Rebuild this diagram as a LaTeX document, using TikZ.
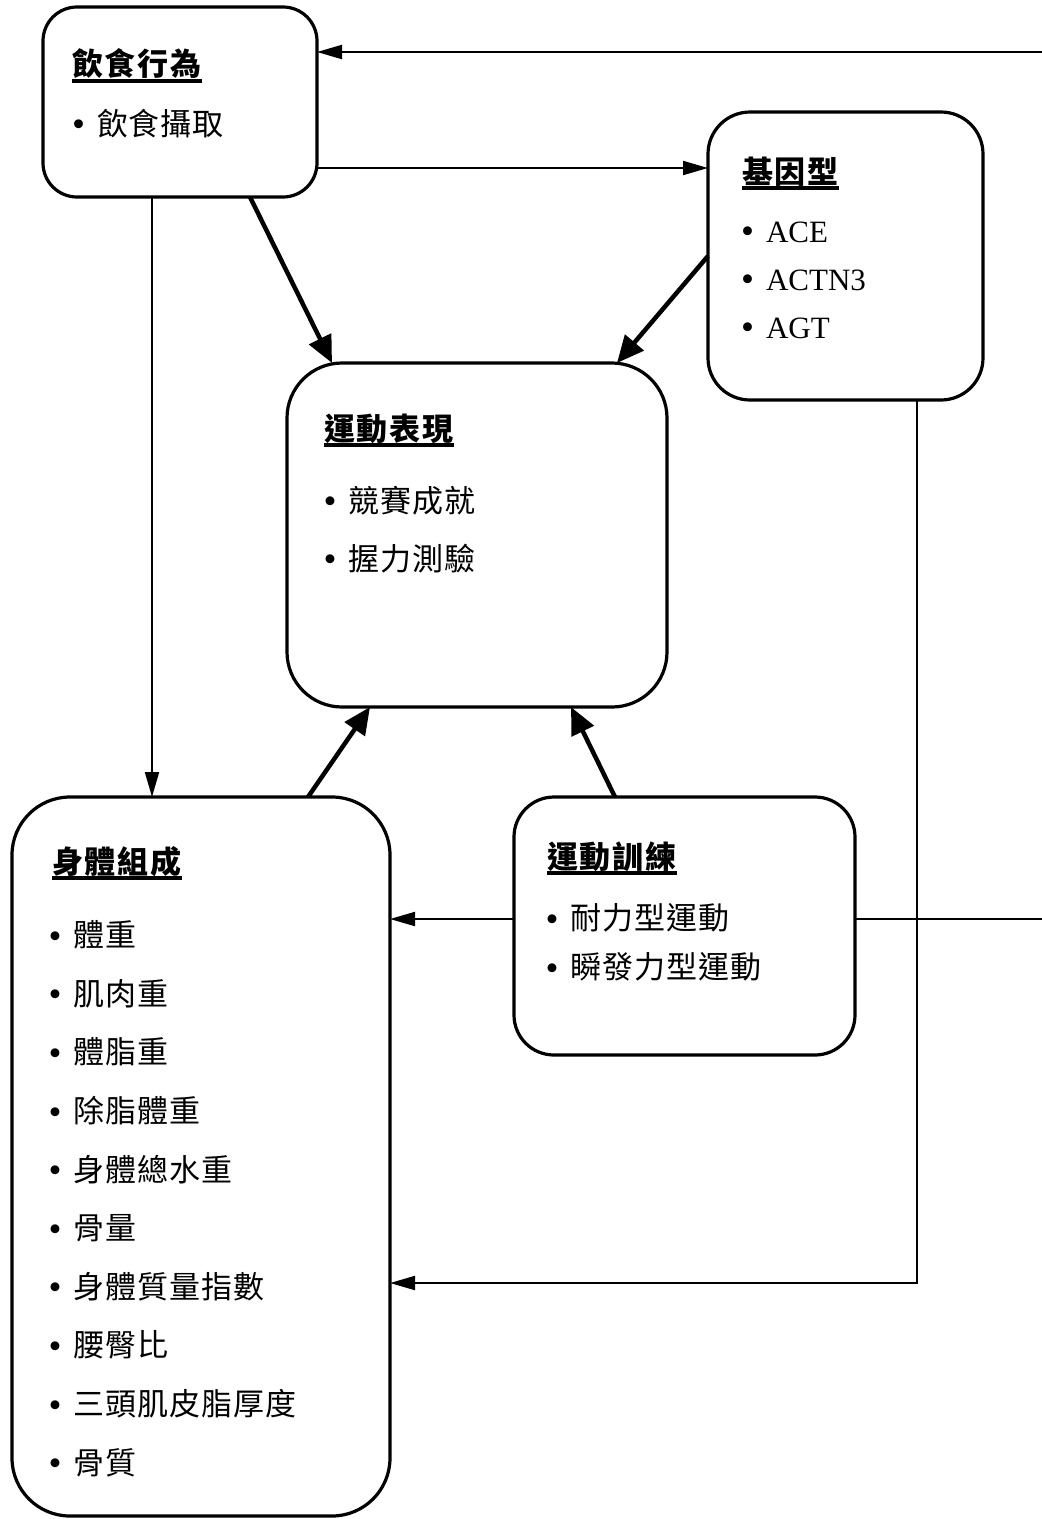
\documentclass[tikz,border=0pt]{standalone}
\usepackage{fontspec}
\setmainfont{Liberation Serif}
\newfontfamily\cjk{Noto Sans CJK TC}[LetterSpace=3]
\newfontfamily\cjkt{Noto Sans CJK TC}[LetterSpace=6]
\usetikzlibrary{arrows.meta}
\newcommand\blt[1]{\makebox[25pt][l]{\raisebox{-1.5pt}{\fontsize{37}{37}\selectfont •}}#1}
\newcommand\ttl[1]{\setbox0\hbox{#1}\rlap{\rule[-7pt]{\wd0}{4pt}}\box0}
\begin{document}
\begin{tikzpicture}[x=1pt,y=-1pt,
  box/.style={draw, line width=3.2pt, rounded corners=#1, inner sep=0pt, outer sep=0pt},
  tx/.style={anchor=base west, inner sep=0pt, outer sep=0pt, font=\fontsize{31}{31}\selectfont},
  thinarr/.style={line width=2pt, -{Triangle[length=25pt,width=14pt]}},
  thickarr/.style={line width=4.5pt, -{Triangle[length=27pt,width=24pt]}}]
\useasboundingbox (0,0) rectangle (1042,1519);
\clip (0,0) rectangle (1042,1519);
% boxes
\node[box=34, minimum width=274pt, minimum height=190pt] (diet) at (180,102) {};
\node[box=42, minimum width=275pt, minimum height=288pt] (geno) at (845.5,256) {};
\node[box=55, minimum width=380pt, minimum height=344pt] (perf) at (477,535) {};
\node[box=58, minimum width=378pt, minimum height=719pt] (body) at (201,1156.5) {};
\node[box=40, minimum width=341pt, minimum height=258pt] (train) at (684.5,926) {};
% texts
\node[tx] (dt) at (72,75.5) {\cjkt\bfseries\ttl{飲食行為}};
\node[tx] (d1) at (72,135) {\blt{\cjk 飲食攝取}};
\node[tx] (gt) at (742,183.3) {\cjkt\bfseries\ttl{基因型}};
\node[tx] (g1) at (741,242) {\blt{ACE}};
\node[tx] (g2) at (741,290) {\blt{ACTN3}};
\node[tx] (g3) at (741,338) {\blt{AGT}};
\node[tx] (pt) at (324,440) {\cjkt\bfseries\ttl{運動表現}};
\node[tx] (p1) at (323.5,512) {\blt{\cjk 競賽成就}};
\node[tx] (p2) at (323.5,570) {\blt{\cjk 握力測驗}};
\node[tx] (bt) at (52,873) {\cjkt\bfseries\ttl{身體組成}};
\foreach \s [count=\i from 0] in {體重,肌肉重,體脂重,除脂體重,身體總水重,骨量,身體質量指數,腰臀比,三頭肌皮脂厚度,骨質}
  \node[tx] (b\i) at (48.5,946.7+58.6*\i) {\blt{\cjk \s}};
\node[tx] (tt) at (547,868) {\cjkt\bfseries\ttl{運動訓練}};
\node[tx] (t1) at (545.5,929.7) {\blt{\cjk 耐力型運動}};
\node[tx] (t2) at (545.5,978.7) {\blt{\cjk 瞬發力型運動}};
% connectors
\coordinate (te) at ([yshift=7pt]train.east);
\coordinate (tw) at ([yshift=7pt]train.west);
\coordinate (de) at ([yshift=50pt]diet.east);
\coordinate (dg) at ([yshift=-66pt]diet.east);
\coordinate (ds) at ([xshift=-28pt]diet.south);
\coordinate (gs) at ([xshift=71.5pt]geno.south);
\coordinate (be) at ([yshift=-126.5pt]body.east);
\draw[thinarr] (te) -- ++(250,0) |- (de);
\draw[thinarr] (dg) -- (dg -| geno.west);
\draw[thinarr] (ds) -- (ds |- body.north);
\draw[thinarr] (tw) -- (tw -| body.east);
\draw[thinarr] (gs) |- (be);
\draw[thickarr] ([xshift=70pt]diet.south) -- ([xshift=-145pt]perf.north);
\draw[thickarr] (geno.west) -- ([xshift=140pt]perf.north);
\draw[thickarr] ([xshift=107pt]body.north) -- ([xshift=-107pt]perf.south);
\draw[thickarr] ([xshift=-69.5pt]train.north) -- ([xshift=94pt]perf.south);
\end{tikzpicture}
\end{document}
